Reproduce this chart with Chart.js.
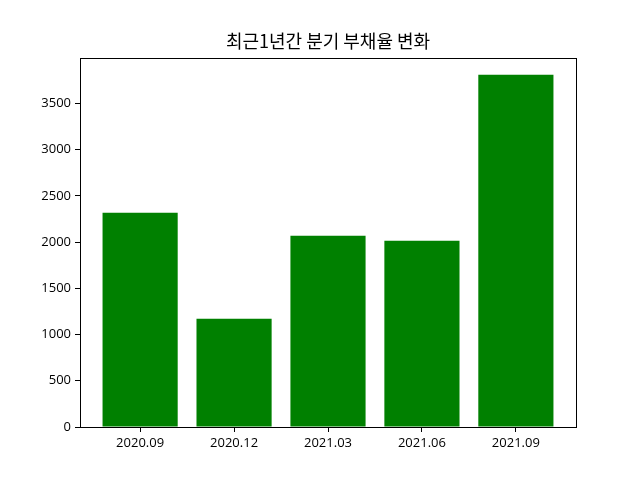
<!DOCTYPE html>
<html><head><meta charset="utf-8">
<script src="https://cdn.jsdelivr.net/npm/chart.js@4"></script>
<style>html,body{margin:0;padding:0;background:#fff}#wrap{width:640px;height:480px}</style>
</head><body><div id="wrap"><canvas id="c" width="640" height="480"></canvas></div>
<script>
const categories = ["2020.09", "2020.12", "2021.03", "2021.06", "2021.09"];
const debtValues = [2317, 1171, 2068, 2014, 3809];
const yTicks = [0, 500, 1000, 1500, 2000, 2500, 3000, 3500];
const titleText = "최근1년간 분기 부채율 변화";

const tickFont = {family: "'Open Sans', 'Noto Sans CJK KR', sans-serif", size: 13};

const framePlugin = {
  id: 'frame',
  afterDraw(chart) {
    const {ctx, chartArea: a} = chart;
    ctx.save();
    ctx.strokeStyle = '#000';
    ctx.lineWidth = 1;
    ctx.strokeRect(Math.round(a.left) + 0.5, Math.round(a.top) + 0.5, Math.round(a.right - a.left), Math.round(a.bottom - a.top));
    ctx.fillStyle = '#000';
    ctx.font = "18px 'Noto Sans CJK KR', sans-serif";
    ctx.textAlign = 'center';
    ctx.textBaseline = 'middle';
    ctx.fillText(titleText, (a.left + a.right) / 2, 41);
    ctx.restore();
  }
};

new Chart(document.getElementById('c'), {
  type: 'bar',
  data: {
    datasets: [{
      data: debtValues.map((v, i) => ({x: i, y: v})),
      backgroundColor: '#008000',
      borderColor: '#008000',
      borderWidth: 0,
      inflateAmount: 0,
      barPercentage: 0.8,
      categoryPercentage: 1.0
    }]
  },
  options: {
    responsive: false,
    animation: false,
    devicePixelRatio: 1,
    layout: {padding: {top: 58, right: 64, left: 0, bottom: 0}},
    plugins: {legend: {display: false}, tooltip: {enabled: false}, title: {display: false}},
    scales: {
      x: {
        type: 'linear',
        offset: false,
        min: -0.64, max: 4.64,
        afterBuildTicks(s) { s.ticks = categories.map((c, i) => ({value: i})); },
        afterFit(s) { s.height = 53; },
        ticks: {
          callback: (v) => categories[v] ?? '',
          color: '#000', font: tickFont, padding: 3, maxRotation: 0, autoSkip: false
        },
        grid: {display: true, offset: false, drawOnChartArea: false, drawTicks: true, tickLength: 5, color: '#000'},
        border: {display: false}
      },
      y: {
        min: 0, max: 3990,
        afterBuildTicks(s) { s.ticks = yTicks.map(v => ({value: v})); },
        afterFit(s) { s.width = 80; },
        ticks: {color: '#000', font: tickFont, padding: 4, callback: (v) => String(v)},
        grid: {display: true, drawOnChartArea: false, drawTicks: true, tickLength: 5, color: '#000'},
        border: {display: false}
      }
    }
  },
  plugins: [framePlugin]
});
</script>
</body></html>
